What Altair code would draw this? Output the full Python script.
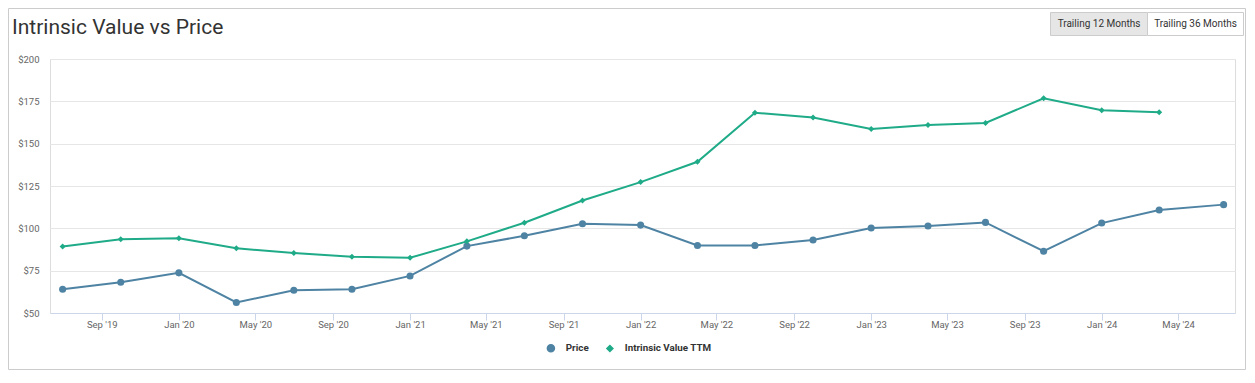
import altair as alt
import pandas as pd

# ---- data ----
dates = ["2019-07-01", "2019-10-01", "2020-01-01", "2020-04-01", "2020-07-01",
         "2020-10-01", "2021-01-01", "2021-04-01", "2021-07-01", "2021-10-01",
         "2022-01-01", "2022-04-01", "2022-07-01", "2022-10-01", "2023-01-01",
         "2023-04-01", "2023-07-01", "2023-10-01", "2024-01-01", "2024-04-01",
         "2024-07-12"]
price = [64.0, 68.2, 73.7, 56.2, 63.4, 64.0, 71.9, 89.5, 95.6, 102.7, 101.9,
         89.9, 89.9, 93.1, 100.2, 101.4, 103.5, 86.5, 103.1, 110.8, 114.0]
intrinsic = [89.3, 93.5, 94.1, 88.2, 85.4, 83.2, 82.6, 92.3, 103.3, 116.4, 127.3,
             139.3, 168.3, 165.5, 158.6, 161.0, 162.2, 176.8, 169.7, 168.5, None]
series_names = ["Price", "Intrinsic Value TTM"]
series_colors = ["#4e83a3", "#1fab88"]
series_shapes = ["circle", "diamond"]
series_sizes = [50, 36]
y_ticks = [50, 75, 100, 125, 150, 175, 200]
x_tick_months = [(2019, 9), (2020, 1), (2020, 5), (2020, 9), (2021, 1), (2021, 5),
                 (2021, 9), (2022, 1), (2022, 5), (2022, 9), (2023, 1), (2023, 5),
                 (2023, 9), (2024, 1), (2024, 5)]
title_text = "Intrinsic Value vs Price"
button_labels = ["Trailing 12 Months", "Trailing 36 Months"]

rows = []
for d, p, iv in zip(dates, price, intrinsic):
    rows.append({"date": d, "series": series_names[0], "value": p})
    if iv is not None:
        rows.append({"date": d, "series": series_names[1], "value": iv})
df = pd.DataFrame(rows)

FONT = "Roboto"
W, H = 1185, 254

x_enc = alt.X(
    "date:T",
    scale=alt.Scale(type="utc",
                    domain=[alt.DateTime(year=2019, month=6, date=11, utc=True),
                            alt.DateTime(year=2024, month=7, date=30, utc=True)]),
    axis=alt.Axis(
        values=[alt.DateTime(year=y, month=m, date=1, utc=True) for y, m in x_tick_months],
        labelExpr="utcFormat(datum.value, \"%b '%y\")", title=None, grid=False,
        domainColor="#ccd6eb", tickColor="#ccd6eb", tickSize=7, labelPadding=-1,
        labelColor="#666666", labelFontSize=9.5, labelFont=FONT),
)
y_enc = alt.Y(
    "value:Q",
    scale=alt.Scale(domain=[50, 200], nice=False, zero=False),
    axis=alt.Axis(values=y_ticks, format="$,.0f", title=None, domain=False, ticks=False,
                  gridColor="#e6e6e6", labelPadding=11, labelColor="#666666",
                  labelFontSize=9.5, labelFont=FONT),
)

legend = alt.Legend(title=None, orient="none", direction="horizontal",
                    legendX=496, legendY=284, labelFontWeight="bold",
                    labelFontSize=9.8, labelColor="#333333", labelFont=FONT,
                    symbolSize=45, columnPadding=14, labelOffset=10)
color_enc = alt.Color("series:N", scale=alt.Scale(domain=series_names, range=series_colors),
                      legend=legend)
shape_enc = alt.Shape("series:N", scale=alt.Scale(domain=series_names, range=series_shapes),
                      legend=legend)

lines = alt.Chart(df).mark_line(strokeWidth=2).encode(x=x_enc, y=y_enc, color=color_enc)

points = alt.Chart(df).mark_point(filled=True, opacity=1).encode(
    x=x_enc, y=y_enc, color=color_enc, shape=shape_enc,
    size=alt.Size("series:N", scale=alt.Scale(domain=series_names, range=series_sizes),
                  legend=None),
)

one = pd.DataFrame({"k": [0]})
border = alt.Chart(one).mark_rect(fill="white", fillOpacity=0, stroke="#cccccc",
                                  strokeWidth=1).encode(
    x=alt.value(-41.5), x2=alt.value(1195.5), y=alt.value(-50.5), y2=alt.value(310.5))
title = alt.Chart(one).mark_text(text=title_text, align="left", baseline="alphabetic",
                                 font=FONT, fontSize=21, fontWeight="normal",
                                 color="#333333").encode(
    x=alt.value(-38), y=alt.value(-25))
btn1 = alt.Chart(one).mark_rect(fill="#e6e6e6", stroke="#cccccc", strokeWidth=1).encode(
    x=alt.value(1000.5), x2=alt.value(1097.5), y=alt.value(-46.5), y2=alt.value(-23.5))
btn2 = alt.Chart(one).mark_rect(fill="#ffffff", stroke="#cccccc", strokeWidth=1).encode(
    x=alt.value(1097.5), x2=alt.value(1193.5), y=alt.value(-46.5), y2=alt.value(-23.5))
btn1_t = alt.Chart(one).mark_text(text=button_labels[0], align="center", baseline="middle",
                                  font=FONT, fontSize=10, color="#333333").encode(
    x=alt.value(1049), y=alt.value(-35))
btn2_t = alt.Chart(one).mark_text(text=button_labels[1], align="center", baseline="middle",
                                  font=FONT, fontSize=10, color="#333333").encode(
    x=alt.value(1145.5), y=alt.value(-35))

chart = alt.layer(border, title, btn1, btn2, btn1_t, btn2_t, lines, points).properties(
    width=W, height=H,
    padding={"left": 42, "top": 51, "right": 12, "bottom": 57},
    autosize=alt.AutoSizeParams(type="none"),
).configure_view(stroke=None).configure(font=FONT)

chart.save("out.html", embed_options={"renderer": "svg", "actions": False})
